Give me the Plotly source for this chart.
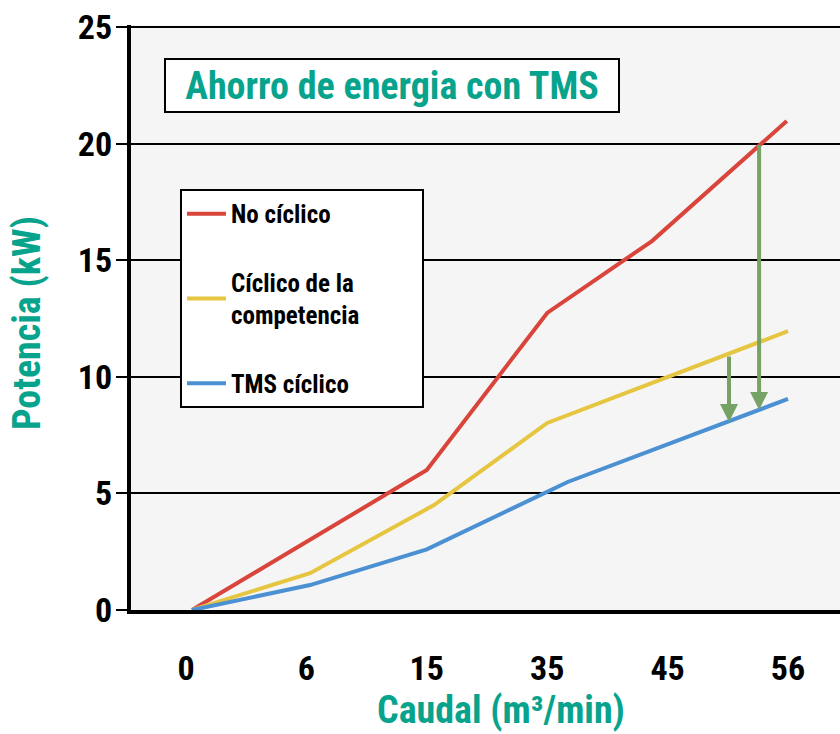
import plotly.graph_objects as go

# ---- data ----
tick_pos = [0, 1, 2, 3, 4, 5]
tick_labels = ["0", "6", "15", "35", "45", "56"]
minor_tick_pos = [0.5, 1.5, 2.5, 3.5, 4.5]
y_ticks = [0, 5, 10, 15, 20, 25]

red_x = [0.05, 2.0, 3.0, 3.87, 4.99]
red_y = [0, 6.0, 12.74, 15.82, 20.97]
yel_x = [0.05, 1.03, 2.06, 3.0, 5.0]
yel_y = [0, 1.58, 4.5, 8.02, 11.96]
blu_x = [0.05, 1.03, 2.0, 3.17, 5.0]
blu_y = [0, 1.07, 2.6, 5.49, 9.05]

arrow_x = [4.51, 4.76]
arrow_from = [10.93, 20.0]
arrow_to = [8.06, 8.58]

NB = "\u00a0"
names = ["No cíclico", "Cíclico de la<br>competencia" + NB * 10, "TMS cíclico"]
colors = ["#d9443b", "#e6c640", "#4a90d2"]
TEAL = "#08a38c"
GREEN = "#76a266"
FONT = "Liberation Sans Narrow, Arial Narrow, Roboto Condensed, Liberation Sans, sans-serif"

fig = go.Figure()
for i, (xs, ys) in enumerate([(red_x, red_y), (yel_x, yel_y), (blu_x, blu_y)]):
    fig.add_trace(go.Scatter(x=xs, y=ys, mode="lines", name=names[i],
                             legendgroup=f"g{i}",
                             line=dict(color=colors[i], width=4)))

for ax_, a0, a1 in zip(arrow_x, arrow_from, arrow_to):
    fig.add_annotation(x=ax_, y=a1, ax=ax_, ay=a0, xref="x", yref="y",
                       axref="x", ayref="y", text="", showarrow=True,
                       arrowhead=2, arrowsize=0.9, arrowwidth=4,
                       arrowcolor=GREEN)

fig.add_annotation(xref="paper", yref="paper", x=0.368, y=0.897,
                   xanchor="center", yanchor="middle",
                   text="Ahorro de energia con TMS", showarrow=False,
                   font=dict(family=FONT, size=38, color=TEAL, weight="bold"),
                   bgcolor="white", bordercolor="black", borderwidth=2,
                   borderpad=2, width=448, height=47)

# axis titles
fig.add_annotation(xref="paper", yref="paper", x=0.522, y=-0.1709,
                   xanchor="center", yanchor="middle", showarrow=False,
                   text="Caudal (m³/min)",
                   font=dict(family=FONT, size=38, color=TEAL, weight="bold"))
fig.add_annotation(xref="paper", yref="paper", x=-0.1467, y=0.4906,
                   xanchor="center", yanchor="middle", showarrow=False,
                   textangle=-90, text="Potencia (kW)",
                   font=dict(family=FONT, size=38, color=TEAL, weight="bold"))

# left axis extension below zero
fig.add_shape(type="line", xref="paper", yref="y", x0=0, x1=0,
              ysizemode="pixel", yanchor=0, y0=0, y1=-16,
              line=dict(color="black", width=4))

fig.update_layout(
    width=840, height=734,
    margin=dict(l=131, r=0, t=25, b=124),
    paper_bgcolor="white", plot_bgcolor="#f5f5f5",
    font=dict(family=FONT, color="black", weight="bold"),
    showlegend=True,
    legend=dict(x=0.0691, y=0.7197, xanchor="left", yanchor="top",
                bgcolor="white", bordercolor="black", borderwidth=2,
                font=dict(family=FONT, size=25, color="black", weight="bold"),
                tracegroupgap=33, traceorder="grouped", itemwidth=39),
    xaxis=dict(range=[-0.457, 5.432], tickmode="array", tickvals=tick_pos,
               ticktext=tick_labels, ticks="", showgrid=False, zeroline=False,
               showline=True, linewidth=4, linecolor="black",
               tickfont=dict(family=FONT, size=34, color="black", weight="bold"),
               ticklabelstandoff=25),
    xaxis2=dict(range=[-0.457, 5.432], overlaying="x", anchor="y", side="bottom",
                tickmode="array", tickvals=minor_tick_pos, ticks="outside",
                ticklen=15, tickwidth=2, tickcolor="black",
                showticklabels=False, showgrid=False, zeroline=False, showline=False),
    yaxis=dict(range=[0, 25.086], tickmode="array", tickvals=y_ticks,
               ticks="outside", ticklen=11, tickwidth=2, tickcolor="black",
               showgrid=True, gridcolor="black", gridwidth=2, zeroline=False,
               showline=True, linewidth=4, linecolor="black",
               tickfont=dict(family=FONT, size=34, color="black", weight="bold"),
               ticklabelstandoff=-3, ticklabeloverflow="allow"),
)

fig.write_html("out.html", config={"displayModeBar": False},
               post_script="document.body.style.margin='0';")
